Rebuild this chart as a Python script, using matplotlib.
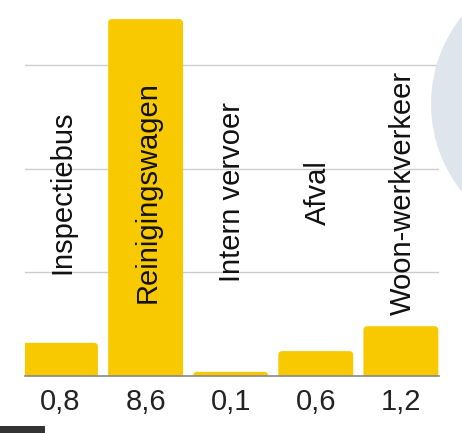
import matplotlib
matplotlib.use("Agg")
import matplotlib.pyplot as plt
from matplotlib.patches import FancyBboxPatch, Circle, Rectangle
from matplotlib.transforms import IdentityTransform

categories = ["Inspectiebus", "Reinigingswagen", "Intern vervoer", "Afval", "Woon-werkverkeer"]
values = [0.8, 8.6, 0.1, 0.6, 1.2]
tick_labels = ["0,8", "8,6", "0,1", "0,6", "1,2"]
grid_values = [2.5, 5.0, 7.5]

plt.rcParams['font.family'] = ['Liberation Sans', 'DejaVu Sans']

W, H = 462, 433
fig = plt.figure(figsize=(W / 100, H / 100), dpi=100)
fig.patch.set_facecolor("white")

# background decorations (pixel coordinates)
circ = Circle((571, H - 104), 140, transform=IdentityTransform(),
              facecolor="#dfe5ec", edgecolor="none", zorder=0)
fig.patches.append(circ)
rect = Rectangle((0, 0), 45, 7, transform=IdentityTransform(),
                 facecolor="#333333", edgecolor="none", zorder=0)
fig.patches.append(rect)

ax_left, ax_right = 25, 439
ax_bottom, ax_top = H - 376, H
ax = fig.add_axes([ax_left / W, ax_bottom / H, (ax_right - ax_left) / W, (ax_top - ax_bottom) / H])
ax.patch.set_alpha(0)

px_per_unit = 41.5
ymax = 376 / px_per_unit
ax.set_ylim(0, ymax)
xmin, xmax = -0.417, 4.448
ax.set_xlim(xmin, xmax)

bar_w = 0.88
dx_per_px = (xmax - xmin) / (ax_right - ax_left)
dy_per_px = 1 / px_per_unit
r_px = 4
for i, v in enumerate(values):
    x0 = i - bar_w / 2
    y0 = -0.5
    p = FancyBboxPatch((x0, y0), bar_w, v - y0,
                       boxstyle=f"round,pad=0,rounding_size={r_px * dx_per_px}",
                       mutation_aspect=dy_per_px / dx_per_px,
                       facecolor="#f9c900", edgecolor="none", zorder=2, clip_on=True)
    ax.add_patch(p)

for g in grid_values:
    ax.axhline(g, color="#cccccc", linewidth=1, zorder=1)
ax.axhline(0, color="#888888", linewidth=1.2, zorder=3, clip_on=False)

label_y = (376 - 192.5) / px_per_unit
for i, c in enumerate(categories):
    ax.text(i + 0.02, label_y, c, rotation=90, ha="center", va="center",
            fontsize=21, color="#111111", zorder=4)

ax.set_xticks(range(len(values)))
ax.set_xticklabels(tick_labels, fontsize=21, color="#222222")
ax.tick_params(axis="x", length=0, pad=8.7)
ax.set_yticks([])
for s in ax.spines.values():
    s.set_visible(False)

fig.savefig("out.png", dpi=100, facecolor="white")
